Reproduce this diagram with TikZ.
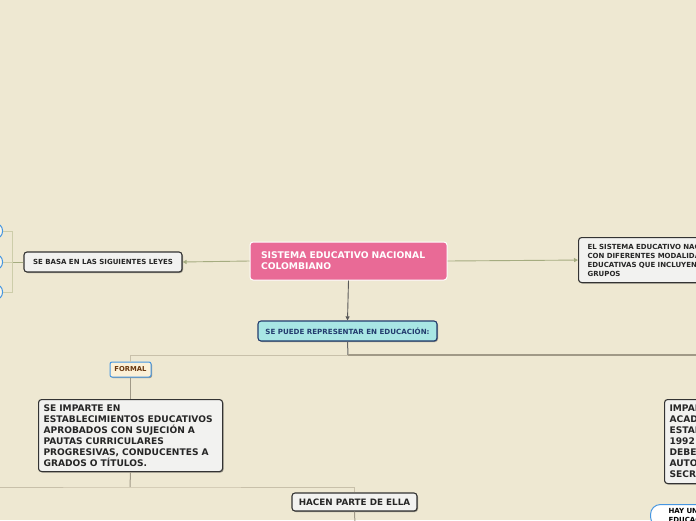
\documentclass[tikz,border=0pt]{standalone}
\usepackage{fontspec}
\setmainfont{DejaVu Sans}
\usetikzlibrary{positioning,arrows.meta,shadows}

\definecolor{fondo}{RGB}{238,232,210}
\definecolor{rosa}{RGB}{233,106,150}
\definecolor{celeste}{RGB}{168,230,228}
\definecolor{azuloscuro}{RGB}{35,60,110}
\definecolor{gristema}{RGB}{242,242,240}
\definecolor{oliva}{RGB}{165,172,128}
\definecolor{olivaclaro}{RGB}{205,205,170}
\definecolor{linea}{RGB}{160,153,135}
\definecolor{lineaclara}{RGB}{200,192,170}
\definecolor{azulborde}{RGB}{70,150,225}
\definecolor{crema}{RGB}{252,241,216}
\definecolor{marron}{RGB}{105,55,15}

\tikzset{
  sombra/.style={drop shadow={shadow xshift=1pt, shadow yshift=-1pt, opacity=0.35, fill=black}},
  tema/.style={draw=black!80, fill=gristema, rounded corners=3pt, line width=1.1pt, sombra,
    font=\bfseries\fontsize{7}{8.5}\selectfont, text=black!85, inner sep=0pt},
  grande/.style={tema, font=\bfseries\fontsize{9.1}{11}\selectfont, align=left},
  central/.style={draw=white, fill=rosa, rounded corners=3pt, line width=1pt, text=white,
    font=\bfseries\fontsize{9.2}{11}\selectfont, align=left, inner sep=0pt},
  ley/.style={draw=azulborde, fill=crema!60, rounded corners=7pt, line width=1pt, minimum width=60pt, minimum height=15pt},
  enlace/.style={oliva, line width=0.9pt, -{Triangle[length=4pt, width=4pt]}},
  rama/.style={lineaclara, line width=1pt},
}

\begin{document}
\begin{tikzpicture}[x=1pt, y=-1pt]
  \useasboundingbox (0,0) rectangle (696,520);
  \fill[fondo] (0,0) rectangle (696,520);
  \clip (0,0) rectangle (696,520);

  % Nodo central
  \node[central, minimum width=197pt, minimum height=38pt, text width=175pt] (sistema) at (348.5,261)
    {SISTEMA EDUCATIVO NACIONAL\\COLOMBIANO};

  % Rama izquierda: leyes
  \node[tema, minimum width=158pt, minimum height=20pt] (leyes) at (103,262) {SE BASA EN LAS SIGUIENTES LEYES};
  \node[ley, anchor=east] (ley1) at (3,231) {};
  \node[ley, anchor=east] (ley2) at (3,262) {};
  \node[ley, anchor=east] (ley3) at (3,292) {};
  \coordinate (bifley) at (12,262);
  \draw[enlace] (sistema.west) -- (leyes.east);
  \draw[oliva, line width=0.9pt] (leyes.west) -- (bifley);
  \draw[olivaclaro, line width=0.9pt] (bifley) |- (ley1.east);
  \draw[olivaclaro, line width=0.9pt] (bifley) -- (ley2.east);
  \draw[olivaclaro, line width=0.9pt] (bifley) |- (ley3.east);

  % Rama derecha: modalidades
  \node[tema, anchor=north west, minimum width=230pt, minimum height=45pt, text width=212pt,
    align=left, font=\bfseries\fontsize{7}{9}\selectfont] (modalidades) at (578,237)
    {EL SISTEMA EDUCATIVO NACIONAL\\CON DIFERENTES MODALIDADES\\EDUCATIVAS QUE INCLUYEN A\\GRUPOS};
  \draw[enlace] (sistema.east) -- (modalidades.west);

  % Representacion en educacion
  \node[draw=azuloscuro, fill=celeste, rounded corners=3pt, line width=1.1pt, sombra, text=azuloscuro,
    font=\bfseries\fontsize{7.1}{8}\selectfont, minimum width=179pt, minimum height=20pt, inner sep=0pt]
    (representar) at (347.5,331) {SE PUEDE REPRESENTAR EN EDUCACIÓN:};
  \draw[black!65, line width=0.9pt, -{Triangle[length=4pt, width=4pt]}] (sistema.south) -- (representar.north);

  \coordinate (bifrep) at (348,355);
  \coordinate (finrep) at (700,355);
  \draw[black!60, line width=1pt] (representar.south) -- (bifrep);
  \draw[linea, line width=1.5pt] (bifrep) -- (finrep);

  % Educacion formal
  \node[draw=azulborde, fill=crema, rounded corners=2pt, line width=1pt, sombra, text=marron,
    font=\bfseries\fontsize{6.8}{7}\selectfont, minimum width=41pt, minimum height=15pt, inner sep=0pt]
    (formal) at (130.5,369.5) {FORMAL};
  \draw[rama] (bifrep) -| (formal.north);

  \node[grande, anchor=north west, minimum width=184pt, minimum height=72pt, text width=174pt] (imparte) at (38,399)
    {SE IMPARTE EN\\ESTABLECIMIENTOS EDUCATIVOS\\APROBADOS CON SUJECIÓN A\\PAUTAS CURRICULARES\\PROGRESIVAS, CONDUCENTES A\\GRADOS O TÍTULOS.};
  \draw[rama, linea] (formal.south) -- (imparte.north -| formal.south);

  \coordinate (bifimp) at (130,487);
  \coordinate (inicioimp) at (-5,487);
  \node[tema, font=\bfseries\fontsize{8.8}{9}\selectfont, minimum width=125pt, minimum height=18pt]
    (hacen) at (354.5,502) {HACEN PARTE DE ELLA};
  \coordinate (finhacen) at (355,525);
  \draw[rama, linea] (imparte.south -| formal.south) -- (bifimp);
  \draw[rama] (inicioimp) -- (bifimp) -| (hacen.north);
  \draw[rama, linea] (hacen.south) -- (finhacen);

  % Educacion no formal (parcialmente visible)
  \node[grande, anchor=north west, minimum width=180pt, minimum height=84pt, text width=170pt] (noformal) at (664,399)
    {IMPARTE\\ACADÉMICA\\ESTABLECIDA\\1992 LAS\\DEBEN\\AUTORIZADAS\\SECRETARÍA};

  \node[draw=azulborde, fill=white, rounded corners=10pt, line width=1pt, anchor=north west,
    text width=100pt, align=left, inner xsep=18pt, inner ysep=4pt,
    font=\bfseries\fontsize{7}{9}\selectfont] (hay) at (650,504)
    {HAY UNA\\EDUCACIÓN};
\end{tikzpicture}
\end{document}
